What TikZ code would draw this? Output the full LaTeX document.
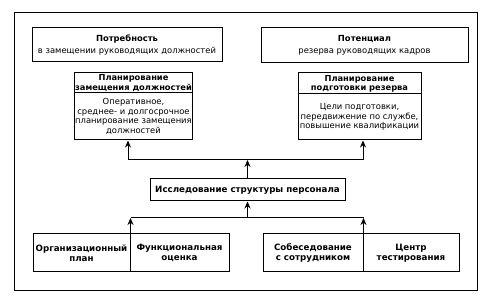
\documentclass[tikz,border=0pt]{standalone}
\usepackage{fontspec}
\setmainfont{DejaVu Sans}
\usetikzlibrary{arrows.meta,positioning}
\begin{document}
\begin{tikzpicture}[x=1pt,y=-1pt,
  box/.style={draw=black,line width=1pt,inner sep=1pt,align=center,
              font=\fontsize{8.4}{9.6}\selectfont},
  headbox/.style={box,font=\fontsize{8.3}{9.2}\selectfont\bfseries},
  cellbox/.style={box,minimum width=#1,minimum height=38pt,
                  font=\fontsize{8.7}{10.4}\selectfont\bfseries},
  arr/.style={-{Stealth[length=7pt,width=6pt]},line width=1pt}]
\useasboundingbox (0,0) rectangle (496,302);
\draw[line width=0.9pt] (14,12) rectangle (477,290);
% upper row
\node[box,minimum width=190pt,minimum height=34pt](needL) at (127,45)
  {\textbf{Потребность}\\[3pt]в замещении руководящих должностей};
\node[box,minimum width=207pt,minimum height=35pt](needR) at (364.5,45.5)
  {\textbf{Потенциал}\\[3pt]резерва руководящих кадров};
\node[headbox,minimum width=115pt,minimum height=20pt](planLh) at (133.5,83)
  {Планирование\\замещения должностей};
\node[box,minimum width=115pt,minimum height=47pt](planLb) at (133.5,116.5)
  {Оперативное,\\среднее- и долгосрочное\\планирование замещения\\должностей};
\node[headbox,minimum width=123pt,minimum height=21pt](planRh) at (359.5,83.5)
  {Планирование\\подготовки резерва};
\node[box,minimum width=123pt,minimum height=46pt](planRb) at (359.5,117)
  {Цели подготовки,\\передвижение по службе,\\повышение квалификации};
\node[headbox,minimum width=195pt,minimum height=22pt,
      font=\fontsize{8.7}{10}\selectfont\bfseries](study) at (247.5,190)
  {Исследование структуры персонала};
% lower row
\node[cellbox=97pt](orgplan) at (81.5,253) {Организационный\\план};
\node[cellbox=99pt](funceval) at (179.5,253) {Функциональная\\оценка};
\node[cellbox=100pt](interview) at (313,253) {Собеседование\\с сотрудником};
\node[cellbox=96pt](testcentre) at (411,253) {Центр\\тестирования};
% connectors
\coordinate (upL) at (128,160);
\coordinate (upR) at (363,160);
\coordinate (loL) at (orgplan.north east |- 0,218);
\coordinate (loR) at (interview.north east |- 0,218);
\draw[line width=1pt] (upL) -- (upR);
\draw[arr] (study.north) -- (study.north |- upL);
\draw[arr] (upL) -- (upL |- planLb.south);
\draw[arr] (upR) -- (upR |- planRb.south);
\draw[line width=1pt] (loL) -- (loR);
\draw[arr] (orgplan.north east) -- (loL);
\draw[arr] (interview.north east) -- (loR);
\draw[arr] (study.south |- loL) -- (study.south);
\end{tikzpicture}
\end{document}
